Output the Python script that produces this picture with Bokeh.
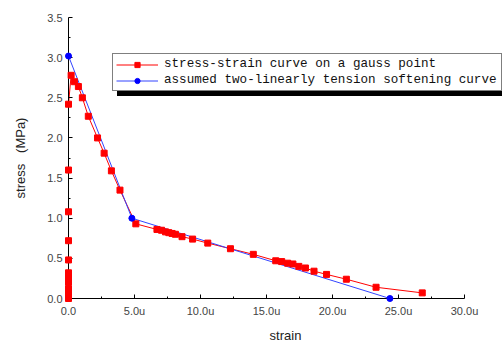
from bokeh.plotting import figure
from bokeh.models import FixedTicker, Legend, LegendItem, Range1d
from bokeh.embed import file_html
from bokeh.resources import INLINE

# data (strain in u, stress in MPa)
gauss_strain = [0, 0, 0, 0, 0, 0, 0, 0, 0, 0, 0,
                0.2, 0.45, 0.75, 1.05, 1.5, 2.2, 2.7, 3.25, 3.9, 5.1,
                6.7, 7.05, 7.35, 7.6, 7.85, 8.1, 8.6, 9.4, 10.55, 12.27,
                14.0, 15.7, 16.15, 16.6, 17.0, 17.45, 17.95, 18.6, 19.55,
                21.05, 23.3, 26.8]
gauss_stress = [0.0, 0.06, 0.12, 0.2, 0.26, 0.32, 0.48, 0.72, 1.08, 1.6, 2.42,
                2.78, 2.70, 2.64, 2.50, 2.27, 2.0, 1.81, 1.59, 1.35, 0.93,
                0.86, 0.85, 0.83, 0.82, 0.81, 0.80, 0.77, 0.74, 0.69, 0.62,
                0.55, 0.47, 0.46, 0.44, 0.43, 0.40, 0.38, 0.34, 0.30,
                0.24, 0.14, 0.07]
assumed_strain = [0.0, 4.8, 24.35]
assumed_stress = [3.02, 1.0, 0.0]

x_ticks = [0, 5, 10, 15, 20, 25, 30]
x_tick_labels = ["0.0", "5.0u", "10.0u", "15.0u", "20.0u", "25.0u", "30.0u"]
y_ticks = [0.0, 0.5, 1.0, 1.5, 2.0, 2.5, 3.0, 3.5]
y_tick_labels = ["0.0", "0.5", "1.0", "1.5", "2.0", "2.5", "3.0", "3.5"]
legend_labels = ["stress-strain curve on a gauss point",
                 "assumed two-linearly tension softening curve"]

W, H = 502, 345
LEFT, TOP, BOTTOM = 68, 17, 42
AXIS_END_PX = 464  # pixel where 30.0u sits
x_end = 30 * (W - LEFT) / (AXIS_END_PX - LEFT)

p = figure(width=W, height=H, output_backend="svg", toolbar_location=None,
           x_range=Range1d(0, x_end), y_range=Range1d(0, 3.5),
           min_border_left=LEFT, min_border_right=0, min_border_top=TOP,
           min_border_bottom=BOTTOM)
p.outline_line_color = None
p.grid.visible = False
p.background_fill_color = "white"
p.border_fill_color = "white"

red = "#ff0000"
blue = "#0000ff"
r_line = p.line(gauss_strain, gauss_stress, line_color=red, line_width=1)
r_pts = p.scatter(gauss_strain, gauss_stress, marker="square", size=6,
                  fill_color=red, line_color=red, level="overlay")
b_line = p.line(assumed_strain, assumed_stress, line_color="#3344ff", line_width=1)
b_pts = p.scatter(assumed_strain, assumed_stress, marker="circle", size=6,
                  fill_color=blue, line_color=blue, level="overlay")

for ax in (p.xaxis[0], p.yaxis[0]):
    ax.axis_line_color = "black"
    ax.major_tick_in = 4
    ax.major_tick_out = 0
    ax.minor_tick_in = 2
    ax.minor_tick_out = 0
    ax.major_tick_line_color = "black"
    ax.minor_tick_line_color = "black"
    ax.major_label_text_font = "Liberation Sans"
    ax.major_label_text_font_size = "11px"
    ax.major_label_text_color = "#444444"
    ax.axis_label_text_font = "Liberation Sans"
    ax.axis_label_text_font_size = "13px"
    ax.axis_label_text_font_style = "normal"
    ax.axis_label_text_color = "#222222"

p.xaxis.bounds = (0, 30)
p.xaxis.ticker = FixedTicker(ticks=x_ticks, minor_ticks=[2.5 + 5 * i for i in range(6)])
p.xaxis.major_label_overrides = {t: l for t, l in zip(x_ticks, x_tick_labels)}
p.yaxis.ticker = FixedTicker(ticks=y_ticks, minor_ticks=[0.25 + 0.5 * i for i in range(7)])
p.yaxis.major_label_overrides = {t: l for t, l in zip(y_ticks, y_tick_labels)}
p.xaxis.axis_label = "strain"
p.yaxis.axis_label = "stress\u00a0\u00a0\u00a0(MPa)"
p.xaxis.major_label_standoff = 6
p.xaxis.axis_label_standoff = 8
p.yaxis.major_label_standoff = 6
p.yaxis.axis_label_standoff = 16


def make_legend(loc, bg, texts, text_color):
    lg = Legend(items=[LegendItem(label=texts[0], renderers=[r_line, r_pts]),
                       LegendItem(label=texts[1], renderers=[b_line, b_pts])],
                location=loc, margin=0, padding=3, spacing=2,
                label_height=13, glyph_height=13, glyph_width=42,
                label_standoff=6, label_width=334,
                label_text_font="Liberation Mono", label_text_font_size="12.6px",
                label_text_color=text_color,
                background_fill_color=bg, background_fill_alpha=1.0,
                border_line_color="black", border_line_width=1)
    return lg


# shadow box (same size, blank labels) then the real legend on top
p.add_layout(make_legend((49, 202), "black", ["\u00a0", "\u00a0"], "black"), "center")
p.add_layout(make_legend((44, 207), "white", legend_labels, "#111111"), "center")

open("out.html", "w").write(file_html(p, INLINE))
